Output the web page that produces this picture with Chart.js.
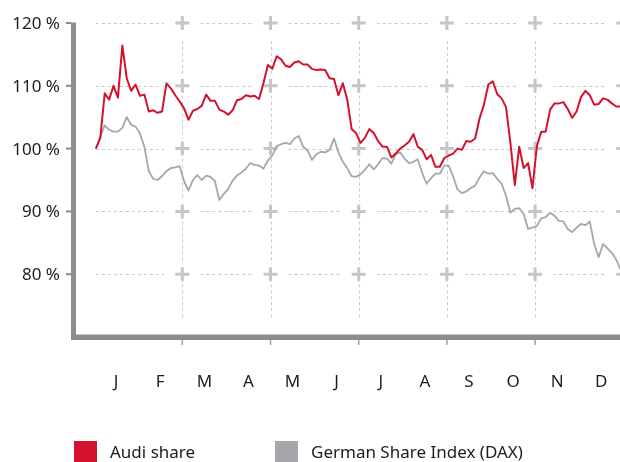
<!DOCTYPE html>
<html>
<head>
<meta charset="utf-8">
<script src="https://cdn.jsdelivr.net/npm/chart.js@4"></script>
<style>
  html, body { margin: 0; padding: 0; background: #fff; }
  #wrap { width: 620px; height: 462px; }
</style>
</head>
<body>
<div id="wrap"><canvas id="shares" width="620" height="462"></canvas></div>
<script>
var months = ["J", "F", "M", "A", "M", "J", "J", "A", "S", "O", "N", "D"];
var yTicks = [120, 110, 100, 90, 80];
var gridMonths = [2, 4, 6, 8, 10, 12];

// sampled every tenth of a month, starting just after 1 January
var sampleStart = 0.04;
var sampleStep = 0.1;

var audiShare = [
    100.0, 101.7, 108.8, 107.8, 110.0, 108.1, 116.4, 111.2, 109.2, 110.2,
    108.4, 108.6, 105.9, 106.1, 105.7, 105.9, 110.4, 109.6, 108.5, 107.5,
    106.4, 104.6, 106.0, 106.3, 106.8, 108.6, 107.6, 107.6, 106.2, 105.9,
    105.4, 106.1, 107.7, 107.9, 108.5, 108.3, 108.4, 107.9, 110.4, 113.3,
    112.7, 114.7, 114.2, 113.2, 113.0, 113.7, 113.9, 113.4, 113.4, 112.7,
    112.5, 112.6, 112.5, 111.2, 111.1, 108.5, 110.4, 107.8, 103.1, 102.5,
    100.9, 101.7, 103.1, 102.5, 101.2, 100.3, 100.3, 98.6, 99.2, 100.0,
    100.5, 101.1, 102.3, 100.3, 99.8, 98.3, 99.0, 97.1, 97.1, 98.5,
    98.9, 99.2, 100.0, 99.8, 101.2, 101.1, 101.6, 104.8, 107.0, 110.2,
    110.7, 108.7, 108.0, 106.6, 100.9, 94.2, 100.3, 96.9, 97.7, 93.7,
    100.4, 102.7, 102.7, 106.2, 107.2, 107.2, 107.4, 106.3, 104.9, 105.9,
    108.2, 109.2, 108.5, 107.0, 107.1, 108.0, 107.8, 107.2, 106.7, 106.7
];

var daxIndex = [
    100.0, 101.8, 103.7, 103.0, 102.7, 102.7, 103.3, 105.0, 103.8, 103.5,
    102.4, 100.3, 96.4, 95.2, 95.0, 95.6, 96.4, 96.9, 97.0, 97.2,
    94.8, 93.3, 95.0, 95.8, 95.0, 95.7, 95.5, 94.8, 91.8, 92.8,
    93.6, 94.9, 95.7, 96.2, 96.8, 97.7, 97.4, 97.3, 96.8, 98.1,
    98.9, 100.4, 100.7, 100.9, 100.7, 101.6, 102.0, 100.3, 99.7, 98.2,
    99.1, 99.5, 99.4, 99.8, 101.6, 99.4, 97.9, 96.9, 95.6, 95.5,
    95.9, 96.6, 97.5, 96.7, 97.5, 98.5, 98.4, 97.6, 99.1, 99.4,
    98.4, 97.7, 97.9, 98.3, 96.1, 94.4, 95.3, 96.0, 96.0, 97.3,
    97.3, 95.6, 93.5, 92.9, 93.2, 93.7, 94.1, 95.4, 96.4, 96.0,
    96.1, 95.2, 94.4, 92.5, 89.8, 90.4, 90.5, 89.6, 87.2, 87.4,
    87.7, 88.9, 89.1, 89.8, 89.3, 88.5, 88.4, 87.2, 86.7, 87.4,
    88.0, 87.8, 88.4, 84.8, 82.7, 84.8, 84.1, 83.4, 82.3, 80.7
];

var RED = "#d3122e";
var GREY = "#a7a7ab";
var FONT = '"Noto Sans", "Open Sans", sans-serif';

function toPoints(values) {
    return values.map(function (v, i) {
        return { x: sampleStart + i * sampleStep, y: v };
    });
}

// dashed grid with gaps for the plus marks, axes, labels and legend
var decor = {
    id: "decor",
    beforeDatasetsDraw: function (chart) {
        var ctx = chart.ctx;
        var xs = chart.scales.x, ys = chart.scales.y;
        var area = chart.chartArea;
        var gx = gridMonths.map(function (m) { return xs.getPixelForValue(m); });
        var gy = yTicks.map(function (v) { return ys.getPixelForValue(v); });
        ctx.save();
        ctx.strokeStyle = "#c9c9c9";
        ctx.lineWidth = 1;
        ctx.setLineDash([3, 3]);
        // horizontal
        var x0 = xs.getPixelForValue(sampleStart);
        gy.forEach(function (y) {
            var py = Math.round(y) + 0.5;
            var start = x0;
            gx.forEach(function (cx) {
                ctx.beginPath();
                ctx.moveTo(start, py);
                ctx.lineTo(cx - 18, py);
                ctx.stroke();
                start = cx + 18;
            });
            if (start < chart.width) {
                ctx.beginPath();
                ctx.moveTo(start, py);
                ctx.lineTo(chart.width, py);
                ctx.stroke();
            }
        });
        // vertical
        gx.forEach(function (x) {
            var px = Math.round(x) + 0.5;
            var start = area.top + 18;
            gy.slice(1).forEach(function (cy) {
                ctx.beginPath();
                ctx.moveTo(px, start);
                ctx.lineTo(px, cy - 10);
                ctx.stroke();
                start = cy + 10;
            });
            ctx.beginPath();
            ctx.moveTo(px, start);
            ctx.lineTo(px, 318);
            ctx.stroke();
        });
        ctx.setLineDash([]);
        // plus marks
        ctx.strokeStyle = "#c6c6c6";
        ctx.lineWidth = 3;
        gx.forEach(function (x) {
            gy.forEach(function (y) {
                ctx.beginPath();
                ctx.moveTo(x - 7, y);
                ctx.lineTo(x + 7, y);
                ctx.moveTo(x, y - 7);
                ctx.lineTo(x, y + 7);
                ctx.stroke();
            });
        });
        ctx.restore();
    },
    afterDraw: function (chart) {
        var ctx = chart.ctx;
        var xs = chart.scales.x, ys = chart.scales.y;
        var area = chart.chartArea;
        ctx.save();
        // axis lines
        ctx.fillStyle = "#8d8d8d";
        ctx.fillRect(71, area.top - 0.5, 5, 340 - area.top);
        ctx.fillRect(71, 334.5, chart.width - 71, 5.5);
        // y ticks and labels
        ctx.strokeStyle = "#8d8d8d";
        ctx.lineWidth = 2;
        ctx.font = "17px " + FONT;
        ctx.fillStyle = "#1c1c1c";
        ctx.textAlign = "right";
        ctx.textBaseline = "alphabetic";
        yTicks.forEach(function (v) {
            var y = ys.getPixelForValue(v);
            ctx.beginPath();
            ctx.moveTo(66, y);
            ctx.lineTo(71, y);
            ctx.stroke();
            ctx.fillText(v + " %", 60, y + 6);
        });
        // x ticks at every second month boundary
        ctx.strokeStyle = "#a0a0a0";
        ctx.lineWidth = 1.5;
        gridMonths.forEach(function (m) {
            var x = xs.getPixelForValue(m);
            ctx.beginPath();
            ctx.moveTo(x, 340);
            ctx.lineTo(x, 345);
            ctx.stroke();
        });
        // month initials centred in each month
        ctx.textAlign = "center";
        months.forEach(function (label, i) {
            ctx.fillText(label, xs.getPixelForValue(i + 0.5), 386.5);
        });
        // legend
        var items = [
            { x: 74, ds: chart.data.datasets[0] },
            { x: 275, ds: chart.data.datasets[1] }
        ];
        ctx.textAlign = "left";
        items.forEach(function (it) {
            ctx.fillStyle = it.ds.borderColor;
            ctx.fillRect(it.x, 441, 23, 21);
            ctx.fillStyle = "#1c1c1c";
            ctx.fillText(it.ds.label, it.x + 36, 457.5);
        });
        ctx.restore();
    }
};

var ctx = document.getElementById("shares").getContext("2d");
var chart = new Chart(ctx, {
    type: "line",
    data: {
        datasets: [
            {
                label: "Audi share",
                data: toPoints(audiShare),
                borderColor: RED,
                backgroundColor: RED,
                borderWidth: 2,
            },
            {
                label: "German Share Index (DAX)",
                data: toPoints(daxIndex),
                borderColor: GREY,
                backgroundColor: GREY,
                borderWidth: 1.8,
            },
        ],
    },
    options: {
        responsive: false,
        animation: false,
        events: [],
        layout: { padding: { left: 74, right: 0, top: 23, bottom: 125 } },
        elements: {
            point: { radius: 0 },
            line: { tension: 0, borderJoinStyle: "round" },
        },
        scales: {
            x: { type: "linear", min: -0.456, max: 11.925, display: false },
            y: { min: 70, max: 120, display: false },
        },
        plugins: {
            legend: { display: false },
            tooltip: { enabled: false },
        },
    },
    plugins: [decor],
});
</script>
</body>
</html>
